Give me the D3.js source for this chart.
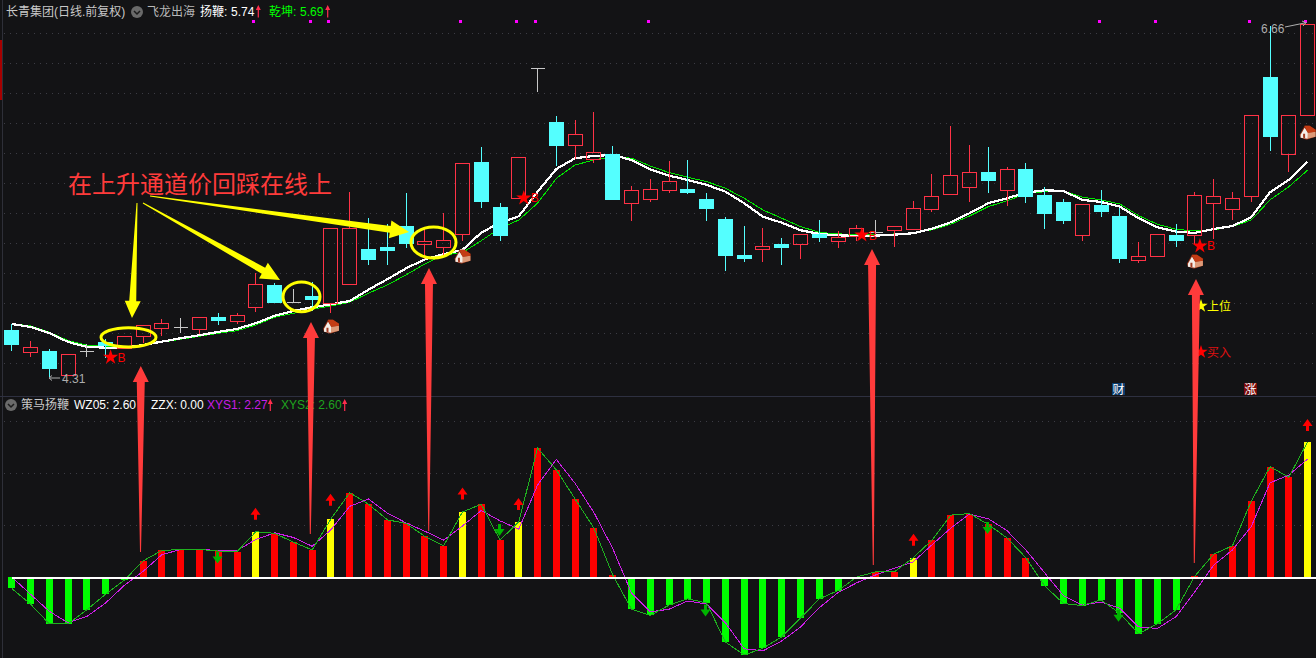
<!DOCTYPE html>
<html><head><meta charset="utf-8">
<script src="https://cdn.jsdelivr.net/npm/d3@7"></script>
<style>html,body{margin:0;padding:0;background:#131315;overflow:hidden}svg{display:block}
text{font-family:'Liberation Sans','Noto Sans CJK SC',sans-serif;font-size:12px}</style>
</head><body><svg id="c" width="1316" height="658"></svg>
<script>
const open=[4.617,4.472,4.475,4.315,4.479,4.535,4.497,4.575,4.632,4.639,4.622,4.704,4.679,4.772,4.917,4.802,4.844,4.795,4.922,5.155,5.170,5.310,5.188,5.168,5.255,5.737,5.435,5.495,6.362,6.004,5.848,5.755,5.790,5.466,5.492,5.552,5.557,5.490,5.357,5.117,5.155,5.190,5.188,5.257,5.212,5.246,5.272,5.284,5.292,5.426,5.526,5.572,5.670,5.552,5.690,5.517,5.470,5.252,5.450,5.377,5.086,5.112,5.250,5.252,5.466,5.426,5.512,6.304,5.792,6.048];
const high=[4.662,4.550,4.495,4.459,4.532,4.562,4.575,4.652,4.697,4.704,4.710,4.735,4.737,5.006,4.939,4.895,4.944,5.295,5.544,5.368,5.328,5.537,5.295,5.404,5.732,5.844,5.468,5.772,6.362,6.050,6.022,6.077,5.850,5.584,5.628,5.750,5.757,5.535,5.377,5.317,5.304,5.237,5.255,5.357,5.282,5.324,5.357,5.308,5.484,5.664,5.984,5.857,5.844,5.710,5.735,5.577,5.497,5.462,5.557,5.439,5.210,5.255,5.330,5.542,5.630,5.542,6.048,6.650,6.048,6.660];
const low=[4.486,4.444,4.310,4.315,4.446,4.439,4.497,4.539,4.586,4.606,4.595,4.657,4.664,4.746,4.806,4.802,4.750,4.739,4.922,5.059,5.059,5.172,5.097,5.117,5.217,5.439,5.217,5.495,6.212,5.717,5.762,5.739,5.492,5.350,5.477,5.537,5.528,5.350,5.017,5.079,5.079,5.059,5.099,5.210,5.172,5.217,5.266,5.179,5.292,5.410,5.526,5.477,5.537,5.450,5.470,5.297,5.330,5.217,5.377,5.070,5.072,5.112,5.177,5.195,5.230,5.357,5.477,5.817,5.677,6.048];
const close=[4.524,4.502,4.364,4.459,4.479,4.515,4.575,4.652,4.662,4.639,4.702,4.684,4.719,4.922,4.806,4.802,4.822,5.295,5.295,5.092,5.150,5.197,5.212,5.217,5.732,5.479,5.252,5.772,6.362,5.850,5.922,5.806,5.492,5.552,5.555,5.608,5.537,5.432,5.119,5.097,5.175,5.170,5.255,5.237,5.235,5.295,5.272,5.308,5.428,5.508,5.648,5.668,5.617,5.688,5.512,5.397,5.350,5.455,5.410,5.097,5.112,5.255,5.217,5.515,5.508,5.495,6.048,5.910,6.048,6.660];
const yangbian=[4.657,4.637,4.597,4.537,4.504,4.499,4.499,4.517,4.539,4.562,4.582,4.604,4.624,4.662,4.712,4.744,4.768,4.788,4.810,4.886,4.955,5.028,5.088,5.122,5.150,5.266,5.332,5.375,5.539,5.690,5.762,5.777,5.784,5.750,5.688,5.646,5.617,5.584,5.539,5.462,5.372,5.332,5.282,5.257,5.248,5.244,5.246,5.252,5.262,5.292,5.335,5.395,5.462,5.495,5.532,5.548,5.544,5.484,5.470,5.439,5.362,5.302,5.272,5.264,5.290,5.310,5.368,5.535,5.617,5.739];
const qiankun=[4.659,4.644,4.602,4.546,4.515,4.510,4.506,4.512,4.535,4.555,4.575,4.595,4.612,4.650,4.702,4.728,4.755,4.777,4.802,4.862,4.917,4.984,5.057,5.117,5.132,5.212,5.295,5.350,5.462,5.628,5.717,5.750,5.772,5.762,5.710,5.666,5.635,5.606,5.562,5.495,5.417,5.362,5.306,5.268,5.257,5.255,5.252,5.257,5.266,5.284,5.322,5.377,5.439,5.479,5.524,5.539,5.544,5.502,5.484,5.457,5.379,5.322,5.288,5.277,5.284,5.306,5.350,5.484,5.572,5.682];
const wz05=[-0.22,-0.52,-0.90,-0.90,-0.63,-0.33,-0.06,0.31,0.51,0.53,0.53,0.50,0.49,0.87,0.84,0.67,0.52,1.12,1.62,1.40,1.10,1.03,0.78,0.60,1.25,1.40,0.71,1.06,2.48,2.06,1.50,0.94,0.04,-0.62,-0.74,-0.54,-0.42,-0.50,-1.25,-1.50,-1.37,-1.15,-0.79,-0.42,-0.26,0.00,0.10,0.10,0.37,0.71,1.19,1.22,1.01,0.75,0.37,-0.17,-0.51,-0.55,-0.44,-0.70,-1.09,-0.90,-0.63,0.02,0.44,0.60,1.46,2.12,1.92,2.60];
const xys1=[0,-0.33,-0.66,-0.88,-0.76,-0.50,-0.16,0.11,0.43,0.53,0.53,0.51,0.51,0.72,0.85,0.76,0.59,0.91,1.36,1.50,1.23,1.04,0.88,0.71,0.98,1.28,1.08,0.92,1.77,2.26,1.80,1.24,0.55,-0.31,-0.67,-0.62,-0.46,-0.52,-0.88,-1.38,-1.42,-1.23,-0.96,-0.59,-0.30,-0.11,0.04,0.17,0.29,0.62,0.94,1.21,1.12,0.89,0.52,0.08,-0.36,-0.54,-0.48,-0.60,-0.96,-0.99,-0.76,-0.28,0.23,0.52,0.97,1.81,1.96,2.27];
const yellowBars=[13,17,24,27,48,69];
const priceTicks=[6.6,6.4,6.2,6.0,5.8,5.6,5.4,5.2,5.0,4.8,4.6,4.4];
const indTicks=[1,2,3];
const topDots=[13,16,17,24,27,28,34,58,61,66,69];
const upArrows=[[13,1.33],[17,1.60],[24,1.72],[27,1.52],[48,0.83],[69,3.04]];
const downArrows=[[11,0.49],[26,1.02],[37,-0.53],[52,1.06],[59,-0.63]];
const buyStars=[[5,4.435],[27,5.497],[45,5.250],[63,5.177]];
const houses=[[17,4.639],[24,5.105],[63,5.072],[69,5.932]];
const chartTitle='长青集团(日线.前复权)';
const mainName='飞龙出海',subName='策马扬鞭';
const callout='在上升通道价回踩在线上';

const svg=d3.select('#c');
const bg=svg.append('rect').attr('width',1316).attr('height',658).attr('fill','#131315');
const idx=d3.range(open.length);
const x=d3.scaleLinear().domain([0,69]).range([11.7,1307.6]);
const yP=d3.scaleLinear().domain([6.8167,4.31]).range([0,376]);
const yI=d3.scaleLinear().domain([0,3]).range([577,421]);
const px=v=>Math.round(v)+.5;
const fx=v=>Math.floor(v)+.5;

// frame
svg.append('line').attr('x1',2.5).attr('x2',2.5).attr('y1',0).attr('y2',658).attr('stroke','#2e2f38');
svg.append('rect').attr('x',0).attr('y',40).attr('width',2).attr('height',60).attr('fill','#a60000');
svg.append('line').attr('x1',0).attr('x2',1316).attr('y1',396.5).attr('y2',396.5).attr('stroke','#2e3040');

// grid
const grid=(ticks,s)=>svg.append('g').selectAll('line').data(ticks).join('line')
  .attr('x1',4).attr('x2',1316).attr('y1',d=>px(s(d))).attr('y2',d=>px(s(d)))
  .attr('stroke','#3c3c44').attr('stroke-dasharray','1 5');
grid(priceTicks,yP);grid(indTicks,yI);

// moving lines
const priceLine=d3.line().x((d,i)=>x(i)).y(d=>yP(d));
svg.append('path').attr('d',priceLine(qiankun)).attr('fill','none').attr('stroke','#00e600').attr('stroke-width',1).attr('shape-rendering','crispEdges');
svg.append('path').attr('d',priceLine(yangbian)).attr('fill','none').attr('stroke','#fff').attr('stroke-width',2.2).attr('shape-rendering','crispEdges');

// candles
const red='#ff3246',cy='#54ffff',doji='#c8c8c8';
const col=i=>close[i]>open[i]?red:close[i]<open[i]?cy:doji;
const cg=svg.append('g').attr('shape-rendering','crispEdges');
idx.forEach(i=>{
  const cx=fx(x(i)),top=px(yP(Math.max(open[i],close[i]))),bot=px(yP(Math.min(open[i],close[i])));
  const c=col(i);
  cg.append('line').attr('x1',cx).attr('x2',cx).attr('y1',px(yP(high[i]))).attr('y2',top).attr('stroke',c);
  cg.append('line').attr('x1',cx).attr('x2',cx).attr('y1',bot).attr('y2',px(yP(low[i]))).attr('stroke',c);
  if(close[i]===open[i]) cg.append('line').attr('x1',cx-7).attr('x2',cx+7).attr('y1',top).attr('y2',top).attr('stroke',c);
  else cg.append('rect').attr('x',cx-7).attr('y',top).attr('width',14).attr('height',Math.max(1,bot-top))
     .attr('fill',close[i]>open[i]?'none':c).attr('stroke',c);
});

// top dots
svg.append('g').selectAll('rect').data(topDots).join('rect')
  .attr('x',d=>Math.floor(x(d))-3).attr('y',20).attr('width',3).attr('height',3).attr('fill','#ff00ff');

// low-panel bars
svg.append('g').attr('shape-rendering','crispEdges').selectAll('rect').data(idx).join('rect')
  .attr('x',i=>Math.floor(x(i))-3).attr('width',7)
  .attr('y',i=>Math.min(yI(wz05[i]),yI(0))).attr('height',i=>Math.abs(yI(wz05[i])-yI(0)))
  .attr('fill',i=>yellowBars.includes(i)?'#ffff00':wz05[i]>=0?'#ff0000':'#00ff00');
const indLine=d3.line().x((d,i)=>x(i)).y(d=>yI(d));
svg.append('path').attr('d',indLine(xys1)).attr('fill','none').attr('stroke','#cc1fe6').attr('shape-rendering','crispEdges');
svg.append('path').attr('d',indLine(wz05)).attr('fill','none').attr('stroke','#1fb01f').attr('shape-rendering','crispEdges');
svg.append('line').attr('x1',x(0)).attr('x2',1316).attr('y1',yI(0)+.5).attr('y2',yI(0)+.5).attr('stroke','#fff').attr('stroke-width',2).attr('shape-rendering','crispEdges');

// small up / down arrows
const smallArrow=(g,cx,y0,dir,c)=>{ // y0: tip (up) or tail (down), length 12
  const tip=dir<0?y0:y0+12;
  const h=dir<0?tip+7:tip-7;
  g.append('path').attr('d',`M${cx},${tip}L${cx+5},${h}L${cx+1.5},${h}L${cx+1.5},${tip-dir*12}L${cx-1.5},${tip-dir*12}L${cx-1.5},${h}L${cx-5},${h}Z`).attr('fill',c);
};
const ag=svg.append('g');
upArrows.forEach(([i,v])=>smallArrow(ag,Math.floor(x(i))+.5,yI(v),-1,'#ff0000'));
downArrows.forEach(([i,v])=>smallArrow(ag,Math.floor(x(i))-.5,yI(v),1,'#00b400'));

// stars + B
const star=d3.symbol(d3.symbolStar).size(72);
const sg=svg.append('g');
buyStars.forEach(([i,p])=>{
  const sx=x(i)+5,sy=yP(p);
  sg.append('path').attr('d',star()).attr('transform',`translate(${sx},${sy})`).attr('fill','#ff0000');
  sg.append('text').attr('x',sx+7).attr('y',sy+4.5).attr('fill','#ff0000').style('font-size','12px').text('B');
});

// houses
const hg=svg.append('g');
houses.forEach(([i,p])=>{
  const g=hg.append('g').attr('transform',`translate(${x(i)},${yP(p)})`);
  g.append('path').attr('d','M-8,2L-3,-7L2,-7L8,-3L8,4L-1,7L-7,5Z').attr('fill','#8f2a10');
  g.append('path').attr('d','M-3,-5L0,0L8,-1L8,4L0,6Z').attr('fill','#dd9a78');
  g.append('path').attr('d','M-3,-7L2,-7L8,-3L8,-1L0,0Z').attr('fill','#c43c14');
  g.append('path').attr('d','M-7,2L-3,-5L0,0L0,6L-7,5Z').attr('fill','#f4efe9');
  g.append('path').attr('d','M-4.5,5L-4.5,1L-2.5,1L-2.5,5.5Z').attr('fill','#a33a20');
});

// extreme labels
svg.append('path').attr('d','M60,378L49,378M52,375.5L49,378L52,380.5').attr('fill','none').attr('stroke','#aeaeae');
svg.append('text').attr('x',62).attr('y',383).attr('fill','#aeaeae').text('4.31');
svg.append('text').attr('x',1261).attr('y',33).attr('fill','#aeaeae').text('6.66');
svg.append('path').attr('d','M1285,27L1306,22.7M1302,21L1306,22.7L1303,26').attr('fill','none').attr('stroke','#aeaeae');

// legends
const T=(tx,ty,s,c)=>svg.append('text').attr('x',tx).attr('y',ty).attr('fill',c).text(s);
const icon=(cx,cy)=>{svg.append('circle').attr('cx',cx).attr('cy',cy).attr('r',6).attr('fill','#6a6a6a');
  svg.append('path').attr('d',`M${cx-3},${cy-1}L${cx},${cy+2}L${cx+3},${cy-1}`).attr('fill','none').attr('stroke','#1b1b1b').attr('stroke-width',1.5);};
const legArrow=(cx,y0,y1)=>svg.append('path').attr('d',`M${cx},${y0}L${cx+2.5},${y0+5}L${cx+.6},${y0+5}L${cx+.6},${y1}L${cx-.6},${y1}L${cx-.6},${y0+5}L${cx-2.5},${y0+5}Z`).attr('fill','#ff2d4d');
T(6,16,chartTitle,'#c8c8c8');
icon(137,12);
T(147,16,mainName,'#b8b8b8');
T(200,16,'扬鞭:','#ffffff');T(231,16,'5.74','#ffffff');legArrow(258.3,5,17.5);
T(269,16,'乾坤:','#00ff00');T(300,16,'5.69','#00ff00');legArrow(327.7,5,17.5);
icon(11,405);
T(21,409,subName,'#c8c8c8');
T(74,409,'WZ05: 2.60','#ffffff');
T(151,409,'ZZX: 0.00','#ffffff');
T(207,409,'XYS1: 2.27','#c81ee6');legArrow(270.3,399,411);
T(281,409,'XYS2: 2.60','#1fa31f');legArrow(344.7,399,411);

// signals
const bs=d3.symbol(d3.symbolStar).size(56);
svg.append('path').attr('d',bs()).attr('transform','translate(1201,306)').attr('fill','#ffff00');
T(1207,310.5,'上位','#ffff00');
svg.append('path').attr('d',bs()).attr('transform','translate(1201,352)').attr('fill','#ff0000');
T(1207,356.5,'买入','#e01010');
const badge=(bx,s,c)=>{svg.append('rect').attr('x',bx).attr('y',383).attr('width',13).attr('height',12).attr('fill',c);
  svg.append('text').attr('x',bx+.5).attr('y',393.5).attr('fill','#fff').text(s);};
badge(1112,'财','#0b3d6e');badge(1244,'涨','#7a0a0a');

// callouts
const bigArrow=(tx,ty,hx,hy,hl,hw,sw,tw,c)=>{
  const dx=hx-tx,dy=hy-ty,L=Math.hypot(dx,dy),ux=dx/L,uy=dy/L,nx=-uy,ny=ux;
  const bx=hx-ux*hl,by=hy-uy*hl;
  const p=[[tx+nx*tw/2,ty+ny*tw/2],[bx+nx*sw/2,by+ny*sw/2],[bx+nx*hw/2,by+ny*hw/2],[hx,hy],[bx-nx*hw/2,by-ny*hw/2],[bx-nx*sw/2,by-ny*sw/2],[tx-nx*tw/2,ty-ny*tw/2]];
  svg.append('polygon').attr('points',p.map(q=>q.join(',')).join(' ')).attr('fill',c);
};
const ry='#ffff00',rr='#ff3b3b';
[[100,326.7,157,348],[282,281,321,312.7],[410,226,457,259]].forEach(([a,b,c,d])=>
  svg.append('ellipse').attr('cx',(a+c)/2).attr('cy',(b+d)/2).attr('rx',(c-a)/2-1).attr('ry',(d-b)/2-1).attr('fill','none').attr('stroke',ry).attr('stroke-width',3));
bigArrow(137,203,132,318,17,16,7,1,ry);
bigArrow(143,203,280,280,19,18,7,1,ry);
bigArrow(150,196,409,232,19,18,7,1,ry);
bigArrow(140.5,552,140.8,366,16,16,8,1,rr);
bigArrow(310.3,534,311,322,16,16,8,1,rr);
bigArrow(428.7,531,429,268,16,16,8,1,rr);
bigArrow(873.3,565,872,249,16,16,8,1,rr);
bigArrow(1194.3,563,1196,279,16,16,8,1,rr);
svg.append('text').attr('x',68).attr('y',193).attr('fill',rr).style('font-size','24px').text(callout);
</script></body></html>
